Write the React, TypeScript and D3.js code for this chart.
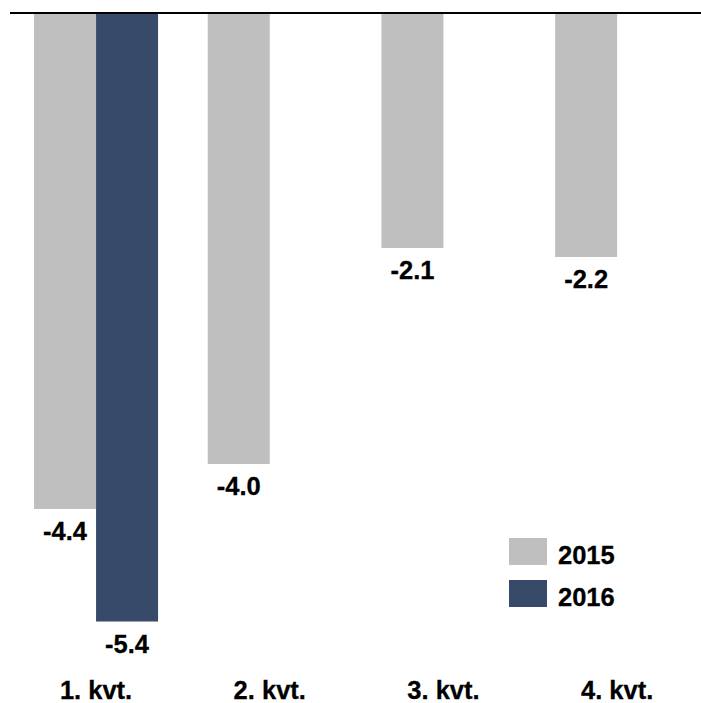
import React from "react";
import * as d3 from "d3";

const categories = ["1. kvt.", "2. kvt.", "3. kvt.", "4. kvt."];
const seriesNames = ["2015", "2016"];
const values2015: (number | null)[] = [-4.4, -4.0, -2.08, -2.16];
const values2016: (number | null)[] = [-5.4, null, null, null];
const colors = ["#bfbfbf", "#374a6a"];

const W = 701;
const H = 703;

export default function App() {
  const x = d3.scaleBand<string>().domain(categories).range([9.2, 704]).paddingInner(0.286).paddingOuter(0.143);
  const xs = d3.scaleBand<string>().domain(seriesNames).range([0, x.bandwidth()]).padding(0);
  const y = d3.scaleLinear().domain([0, -5.4]).range([14, 621.5]);
  const series = [values2015, values2016];
  const font = "'Liberation Sans', Arial, sans-serif";
  const fs = 25.5;

  return (
    <svg width={W} height={H} style={{ position: "absolute", left: 0, top: 0 }} fontFamily={font}>
      {series.map((vals, si) =>
        vals.map((v, ci) => {
          if (v === null) return null;
          const bx = (x(categories[ci]) as number) + (xs(seriesNames[si]) as number);
          const bw = xs.bandwidth();
          return (
            <g key={`${si}-${ci}`}>
              <rect x={bx} y={y(0)} width={bw} height={y(v) - y(0)} fill={colors[si]} />
              <text x={bx + bw / 2} y={y(v) + 31} textAnchor="middle" fontSize={fs} fontWeight="bold" fill="#000" stroke="#000" strokeWidth={0.3}>
                {v.toFixed(1)}
              </text>
            </g>
          );
        })
      )}
      <line x1={10} x2={701} y1={13} y2={13} stroke="#000" strokeWidth={2} />
      {categories.map((c) => (
        <text key={c} x={(x(c) as number) + x.bandwidth() / 2} y={699} textAnchor="middle" fontSize={fs} fontWeight="bold" fill="#000" stroke="#000" strokeWidth={0.3}>
          {c}
        </text>
      ))}
      {seriesNames.map((s, i) => (
        <g key={s}>
          <rect x={509} y={538 + i * 42} width={38} height={27} fill={colors[i]} />
          <text x={558} y={564 + i * 42} fontSize={fs} fontWeight="bold" fill="#000" stroke="#000" strokeWidth={0.3}>
            {s}
          </text>
        </g>
      ))}
    </svg>
  );
}
